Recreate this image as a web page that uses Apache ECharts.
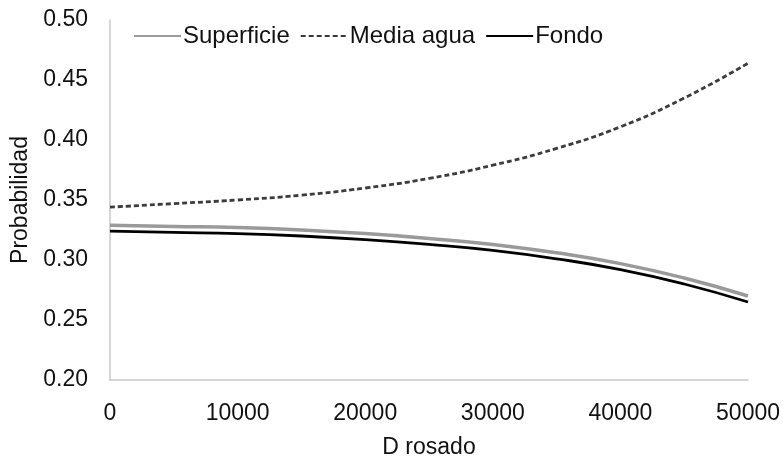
<!DOCTYPE html>
<html>
<head>
<meta charset="utf-8">
<script src="https://cdn.jsdelivr.net/npm/echarts@6/dist/echarts.min.js"></script>
<style>html,body{margin:0;padding:0;background:#fff;}#c{width:783px;height:464px;}</style>
</head>
<body>
<div id="c"></div>
<script>
var dRosado = [0, 5000, 10000, 15000, 20000, 25000, 30000, 35000, 40000, 45000, 50000];
var superficie = [0.329, 0.328, 0.327, 0.325, 0.322, 0.318, 0.313, 0.306, 0.297, 0.285, 0.270];
var mediaAgua  = [0.344, 0.347, 0.350, 0.354, 0.360, 0.368, 0.379, 0.393, 0.411, 0.435, 0.464];
var fondo      = [0.324, 0.323, 0.322, 0.320, 0.317, 0.313, 0.308, 0.301, 0.292, 0.280, 0.265];
var seriesNames = ['Superficie', 'Media agua', 'Fondo'];

function pairs(xs, ys) { return xs.map(function (x, i) { return [x, ys[i]]; }); }

var font = 'Liberation Sans, Arial, Helvetica, sans-serif';
var chart = echarts.init(document.getElementById('c'), null, {renderer: 'canvas'});
chart.setOption({
  animation: false,
  backgroundColor: '#fff',
  textStyle: {fontFamily: font},
  grid: {left: 110, right: 31, top: 20, bottom: 81, containLabel: false},
  legend: {
    data: seriesNames,
    left: 128, top: 19,
    itemWidth: 47, itemHeight: 14, itemGap: 10,
    itemStyle: {opacity: 0},
    textStyle: {fontSize: 24, color: '#111', fontFamily: font, padding: [0, 0, 0, -3]}
  },
  xAxis: {
    type: 'value', min: 0, max: 50000, interval: 10000,
    name: 'D rosado', nameLocation: 'middle', nameGap: 56,
    nameTextStyle: {fontSize: 23, color: '#111', fontFamily: font},
    axisLine: {show: true, lineStyle: {color: '#c8c8c8', width: 1.5}},
    axisTick: {show: false},
    splitLine: {show: false},
    axisLabel: {fontSize: 23, color: '#111', margin: 22, fontFamily: font,
      formatter: function (v) { return String(v); }}
  },
  yAxis: {
    type: 'value', min: 0.2, max: 0.5, interval: 0.05,
    name: 'Probabilidad', nameLocation: 'middle', nameGap: 76,
    nameTextStyle: {fontSize: 23, color: '#111', fontFamily: font},
    axisLine: {show: true, lineStyle: {color: '#c8c8c8', width: 1.5}},
    axisTick: {show: false},
    splitLine: {show: false},
    axisLabel: {fontSize: 23, color: '#111', margin: 22, fontFamily: font,
      formatter: function (v) { return v.toFixed(2); }}
  },
  series: [
    {name: seriesNames[0], type: 'line', smooth: true, symbol: 'none',
     data: pairs(dRosado, superficie),
     lineStyle: {color: '#9a9a9a', width: 3.5}, itemStyle: {color: '#9a9a9a'}},
    {name: seriesNames[1], type: 'line', smooth: true, symbol: 'none',
     data: pairs(dRosado, mediaAgua),
     lineStyle: {color: '#3c3c3c', width: 2.8, type: [5, 3]}, itemStyle: {color: '#3c3c3c'}},
    {name: seriesNames[2], type: 'line', smooth: true, symbol: 'none',
     data: pairs(dRosado, fondo),
     lineStyle: {color: '#000', width: 2.8}, itemStyle: {color: '#000'}}
  ]
});
</script>
</body>
</html>
